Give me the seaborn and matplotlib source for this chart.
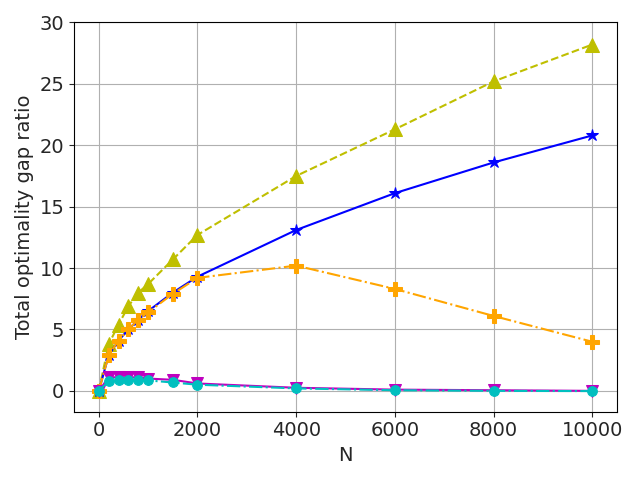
import matplotlib
matplotlib.use("Agg")
import matplotlib.pyplot as plt
import seaborn as sns
import pandas as pd

sns.set_style("white")
plt.rcParams['font.family'] = ['DejaVu Sans']

N = [0, 200, 400, 600, 800, 1000, 1500, 2000, 4000, 6000, 8000, 10000]
s_blue = [0.0, 2.9, 4.1, 5.0, 5.8, 6.5, 8.0, 9.3, 13.1, 16.1, 18.6, 20.8]
s_yellow = [0.0, 3.8, 5.4, 6.9, 8.0, 8.7, 10.7, 12.7, 17.5, 21.3, 25.2, 28.2]
s_orange = [0.0, 2.9, 4.1, 5.0, 5.8, 6.4, 7.9, 9.2, 10.2, 8.3, 6.1, 4.0]
s_magenta = [0.0, 1.1, 1.1, 1.1, 1.1, 1.0, 0.9, 0.6, 0.25, 0.1, 0.05, 0.0]
s_cyan = [0.0, 0.8, 0.9, 0.9, 0.9, 0.85, 0.68, 0.5, 0.2, 0.05, 0.0, -0.02]

fig, ax = plt.subplots(figsize=(6.4, 4.8), dpi=100)

series = [
    (s_yellow, 'y', '--', '^', 10),
    (s_blue, 'b', '-', '*', 9),
    (s_orange, 'orange', '-.', 'P', 10),
    (s_magenta, 'm', '-', 'v', 9),
    (s_cyan, 'c', '-.', 'o', 7),
]
for vals, col, ls, mk, ms in series:
    df = pd.DataFrame({'N': N, 'v': vals})
    sns.lineplot(data=df, x='N', y='v', color=col, linestyle=ls, marker=mk,
                 markersize=ms, markeredgecolor=col, ax=ax)

ax.set_ylim(-1.7, 30)
ax.set_xlim(-500, 10500)
ax.set_xticks([0, 2000, 4000, 6000, 8000, 10000])
ax.set_yticks([0, 5, 10, 15, 20, 25, 30])
ax.grid(True, color='#b0b0b0', linewidth=0.8)
ax.set_xlabel('N', fontsize=14)
ax.set_ylabel('Total optimality gap ratio', fontsize=14)
ax.tick_params(labelsize=14, length=3.5, width=0.8, left=True, bottom=True)
for sp in ax.spines.values():
    sp.set_color('black')
    sp.set_linewidth(0.8)
fig.tight_layout()
fig.savefig('out.png', dpi=100)
